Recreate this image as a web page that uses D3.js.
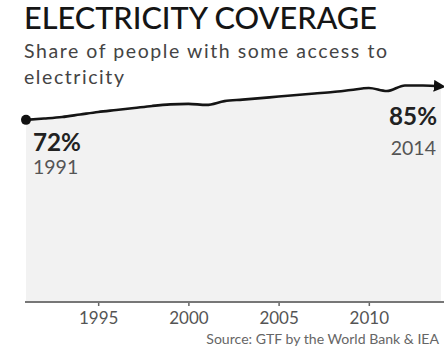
<!DOCTYPE html>
<html>
<head>
<meta charset="utf-8">
<script src="https://cdn.jsdelivr.net/npm/d3@7"></script>
<style>
  html, body { margin: 0; padding: 0; background: #fff; }
  svg { display: block; }
  text { font-family: Lato, "Open Sans", sans-serif; }
</style>
</head>
<body>
<svg id="chart" width="444" height="350"></svg>
<script>
const years = [1991,1992,1993,1994,1995,1996,1997,1998,1999,2000,2001,2002,2003,2004,2005,2006,2007,2008,2009,2010,2011,2012,2013,2014];
const access = [72.0,72.5,73.1,74.1,75.1,75.9,76.7,77.5,78.1,78.3,77.9,79.4,80.0,80.6,81.2,81.8,82.4,83.0,83.8,84.6,83.4,85.6,85.6,85.2];
const xTicks = [1995,2000,2005,2010];
const title = "ELECTRICITY COVERAGE";
const subtitle = ["Share of people with some access to", "electricity"];
const source = "Source: GTF by the World Bank & IEA";
const startLabel = ["72%", "1991"];
const endLabel = ["85%", "2014"];

const data = years.map((yr, i) => ({year: yr, value: access[i]}));

const svg = d3.select("#chart");
const x = d3.scaleLinear().domain([1991, 2014]).range([26, 441]);
const y = d3.scaleLinear().domain([0, 100]).range([302, 49]);

function fit(sel, w) {
  const fs = +sel.attr("font-size");
  const len = sel.node().getComputedTextLength();
  if (len > 0) sel.attr("font-size", fs * w / len);
  return sel;
}
function spread(sel, w) {
  const len = sel.node().getComputedTextLength();
  const n = sel.text().length;
  if (len > 0 && n > 1) sel.attr("letter-spacing", (w - len) / (n - 1));
  return sel;
}

// Titles
fit(svg.append("text").attr("x", 24).attr("y", 29)
  .attr("font-family", "'Open Sans', sans-serif")
  .attr("font-size", 26).attr("fill", "#151515").attr("font-weight", 500)
  .text(title), 353);
const sub0 = svg.append("text").attr("x", 24).attr("y", 58)
  .attr("font-family", "'Open Sans', sans-serif").attr("font-weight", 400)
  .attr("font-size", 19.5).attr("fill", "#444").text(subtitle[0]);
spread(sub0, 363);
svg.append("text").attr("x", 24).attr("y", 84)
  .attr("font-family", "'Open Sans', sans-serif").attr("font-weight", 400)
  .attr("letter-spacing", sub0.attr("letter-spacing"))
  .attr("font-size", 19.5).attr("fill", "#444").text(subtitle[1]);

// Area
const area = d3.area().x(d => x(d.year)).y0(y(0)).y1(d => y(d.value));
svg.append("path").datum(data).attr("d", area).attr("fill", "#f2f2f2");

// Axis
const axis = d3.axisBottom(x).tickValues(xTicks).tickFormat(d3.format("d")).tickSize(4).tickPadding(6);
const gAxis = svg.append("g").attr("transform", `translate(0,${y(0)})`).call(axis);
gAxis.select(".domain").remove();
gAxis.selectAll(".tick line").attr("stroke", "#666").attr("stroke-width", 1.5);
gAxis.selectAll(".tick text").attr("font-size", 17).attr("fill", "#555")
  .attr("font-family", "Lato, sans-serif");
svg.append("line")
  .attr("x1", x.range()[0] - 1).attr("x2", 444)
  .attr("y1", y(0)).attr("y2", y(0))
  .attr("stroke", "#777").attr("stroke-width", 2);

// Arrow marker
const defs = svg.append("defs");
defs.append("marker").attr("id", "arrow")
  .attr("viewBox", "0 -5 10 10").attr("refX", 6).attr("refY", 0)
  .attr("markerUnits", "userSpaceOnUse")
  .attr("markerWidth", 12).attr("markerHeight", 12)
  .attr("orient", "auto")
  .append("path").attr("d", "M0,-5L10,0L0,5Z").attr("fill", "#111");

// Line
const line = d3.line().x(d => x(d.year)).y(d => y(d.value)).curve(d3.curveMonotoneX);
svg.append("path").datum(data).attr("d", line)
  .attr("fill", "none").attr("stroke", "#151515").attr("stroke-width", 2.6)
  .attr("stroke-linejoin", "round")
  .attr("marker-end", "url(#arrow)");

// Start dot
svg.append("circle").attr("cx", x(data[0].year)).attr("cy", y(data[0].value))
  .attr("r", 5).attr("fill", "#111");

// Labels
fit(svg.append("text").attr("x", 33).attr("y", 151)
  .attr("font-size", 22).attr("font-weight", 700).attr("fill", "#222").text(startLabel[0]), 48);
svg.append("text").attr("x", 33).attr("y", 174)
  .attr("font-size", 19.5).attr("fill", "#555").text(startLabel[1]);
fit(svg.append("text").attr("x", 437).attr("y", 125).attr("text-anchor", "end")
  .attr("font-size", 22).attr("font-weight", 700).attr("fill", "#222").text(endLabel[0]), 48);
svg.append("text").attr("x", 436).attr("y", 155).attr("text-anchor", "end")
  .attr("font-size", 19.5).attr("fill", "#555").text(endLabel[1]);

// Source
fit(svg.append("text").attr("x", 439).attr("y", 344).attr("text-anchor", "end")
  .attr("font-size", 13).attr("fill", "#666").text(source), 233);
</script>
</body>
</html>
